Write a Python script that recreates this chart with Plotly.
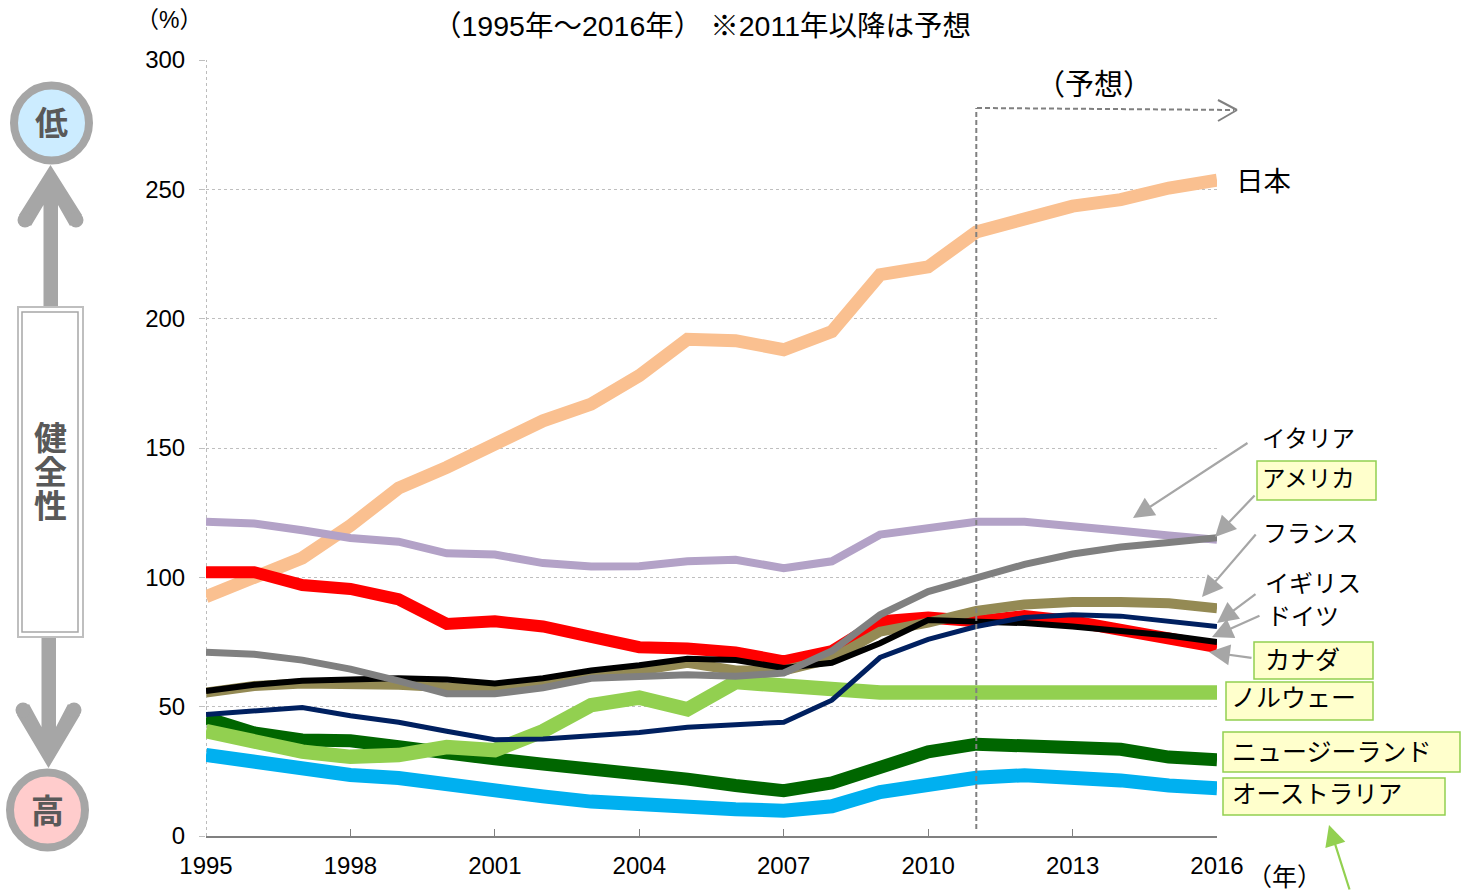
import plotly.graph_objects as go

W, H = 1467, 891
L, R, T, B = 206, 1217, 60, 836

years = list(range(1995, 2017))
x_ticks = [1995, 1998, 2001, 2004, 2007, 2010, 2013, 2016]
y_ticks = [0, 50, 100, 150, 200, 250, 300]

japan = [92.5, 100, 107.5, 120, 134.5, 142.5, 152, 160.5, 167, 178, 192, 191.5, 188, 195, 217, 220, 233.5, 239, 243.5, 246, 250.5, 253.5]
italy = [121.5, 120.8, 118.2, 115.2, 113.8, 109.3, 108.8, 105.5, 104.2, 104.3, 106.2, 106.8, 103.5, 106.2, 116.5, 119, 121.5, 121.5, 120, 118, 116.2, 114.5]
usa = [71, 70.3, 68, 64.5, 60, 55, 55, 57.3, 61, 61.7, 62.3, 61.8, 63, 71.5, 85.5, 94.5, 100, 105, 109, 111.7, 113.5, 115.3]
france = [55.5, 58, 59, 59, 58.5, 57.5, 57, 59.5, 62.5, 64, 67, 64, 64, 68.5, 79, 82.5, 87, 89.5, 90.5, 90.5, 90, 88]
canada = [102, 102, 97, 95.5, 91.5, 82, 83, 81, 77, 73, 72.5, 71, 67.5, 71.5, 83, 84.5, 83, 85, 83, 80, 76.5, 73]
uk = [47, 48.5, 49.7, 46.5, 44, 40.5, 37.2, 37.5, 38.7, 40, 42, 43.2, 44, 52.5, 69, 76, 81, 84.5, 85.5, 85, 83, 81]
germany = [56, 58.5, 60, 60.5, 61, 60.5, 59, 61, 64, 66, 68.5, 68, 65, 67, 74.5, 83.5, 83, 82.3, 81, 79.5, 77.5, 75]
norway = [40.6, 36, 32.6, 30.6, 31.3, 34.4, 33.2, 40.5, 50.6, 53.5, 49, 59.5, 58, 56.5, 55.5, 55.5, 55.5, 55.5, 55.5, 55.5, 55.5, 55.5]
new_zealand = [45.6, 39.8, 37.1, 36.8, 34.5, 31.7, 29.8, 27.8, 26.2, 24, 22, 19.5, 17.5, 20.5, 26.5, 32.5, 35.5, 35, 34.5, 33.5, 30.5, 29.5]
australia = [31.3, 28.7, 25.8, 23.6, 22.4, 19.7, 17.1, 15.3, 13.3, 12, 11, 10.3, 9.8, 11.5, 17, 20, 22.5, 23.5, 23, 21.5, 19.5, 18.5]

series = [
    ("オーストラリア", australia, "#00B0F0", 14),
    ("ニュージーランド", new_zealand, "#006600", 13),
    ("ノルウェー", norway, "#92D050", 14.5),
    ("日本", japan, "#FAC090", 13),
    ("イタリア", italy, "#B3A2C7", 8),
    ("カナダ", canada, "#FF0000", 12),
    ("フランス", france, "#948A54", 10),
    ("ドイツ", germany, "#000000", 6),
    ("イギリス", uk, "#002060", 5),
    ("アメリカ", usa, "#808080", 7),
]

FONT = "'Liberation Sans', Arial, 'Noto Sans CJK JP', sans-serif"
GRAY = "#A6A6A6"


def px(v):
    return (v - L) / (R - L)


def py(v):
    return (B - v) / (B - T)


def poly(points):
    d = "M " + " L ".join(f"{px(a):.5f},{py(b):.5f}" for a, b in points) + " Z"
    return d


fig = go.Figure()
for name, values, color, width in series:
    fig.add_trace(go.Scatter(x=years, y=values, name=name, mode="lines",
                             line=dict(color=color, width=width, shape="linear")))

shapes = []


def rect(x0, y0, x1, y1, fill="rgba(0,0,0,0)", line=GRAY, width=1.5):
    shapes.append(dict(type="rect", xref="paper", yref="paper", layer="above",
                       x0=px(x0), x1=px(x1), y0=py(y0), y1=py(y1),
                       fillcolor=fill, line=dict(color=line, width=width)))


def circle(cx, cy, r, fill, line=None, width=0):
    shapes.append(dict(type="circle", xref="paper", yref="paper", layer="above",
                       x0=px(cx - r), x1=px(cx + r), y0=py(cy + r), y1=py(cy - r),
                       fillcolor=fill, line=dict(color=line or fill, width=width)))


def segment(x0, y0, x1, y1, color="#808080", width=2, dash=None):
    shapes.append(dict(type="line", xref="paper", yref="paper", layer="above",
                       x0=px(x0), x1=px(x1), y0=py(y0), y1=py(y1),
                       line=dict(color=color, width=width, dash=dash)))


def fill_poly(points, color=GRAY):
    shapes.append(dict(type="path", xref="paper", yref="paper", layer="above",
                       path=poly(points), fillcolor=color, line=dict(width=0)))


# y axis dotted line
shapes.append(dict(type="line", xref="x", yref="y", x0=1995, x1=1995, y0=0, y1=300, layer="below",
                   line=dict(color="#A6A6A6", width=1.5, dash="dot")))

# forecast marker
shapes.append(dict(type="line", xref="x", yref="paper", x0=2011, x1=2011, y0=py(829), y1=py(108),
                   layer="above", line=dict(color="#808080", width=2, dash="5px,3px")))
segment(977, 108, 1234, 110, dash="5px,3px")
segment(1218, 100, 1237, 110, width=2)
segment(1218, 121, 1237, 110, width=2)

# left panel: arrows
fill_poly([(50.5, 165), (82, 215), (70, 226), (58, 205), (58, 308), (43.5, 308), (43.5, 205), (31, 226), (19, 215)])
circle(25, 220, 7.5, GRAY)
circle(76, 220, 7.5, GRAY)
fill_poly([(48.5, 768), (80, 715), (68, 704), (56, 727), (56, 635), (41.5, 635), (41.5, 727), (29, 704), (17, 715)])
circle(23, 710, 7.5, GRAY)
circle(74, 710, 7.5, GRAY)
circle(51.5, 123, 37.5, "#CCECFF", GRAY, 8)
circle(47.5, 810, 37.5, "#FFCCCC", GRAY, 8)
rect(18, 307, 83, 637, fill="#FFFFFF", line="#BFBFBF", width=2)
rect(22, 312, 78, 632, line="#A6A6A6", width=1.5)

# label boxes
BOX_FILL = "#FFFFCC"
BOX_LINE = "#92D050"
for box in [(1257, 461, 1376, 500), (1254, 642, 1373, 679), (1226, 682, 1373, 720),
            (1223, 732, 1460, 772), (1223, 778, 1445, 815)]:
    rect(*box, fill=BOX_FILL, line=BOX_LINE, width=1.5)

annotations = []


def text(x, y, s, size=24, anchor="left", color="#000000", bold=False, height=None):
    annotations.append(dict(xref="paper", yref="paper", x=px(x), y=py(y), text=f"<b>{s}</b>" if bold else s,
                            showarrow=False, xanchor=anchor, yanchor="middle", height=height,
                            borderpad=0, font=dict(size=size, color=color, family=FONT)))


def arrow(x0, y0, x1, y1, color=GRAY):
    annotations.append(dict(xref="paper", yref="paper", x=px(x1), y=py(y1), ax=x0 - x1, ay=y0 - y1,
                            axref="pixel", ayref="pixel", text="", showarrow=True,
                            arrowhead=2, arrowsize=1.9, arrowwidth=2.2, arrowcolor=color))


text(702, 26, "（1995年～2016年） ※2011年以降は予想", 28.5, "center")
text(169, 20, "（%）", 23, "center")
text(1094, 85, "（予想）", 29, "center")
text(1284, 877, "（年）", 25, "center")

text(51.5, 123, "低", 33, "center", "#595959", True)
text(47.5, 811, "高", 33, "center", "#595959", True)
text(50.5, 438, "健", 33, "center", "#595959", True, height=32)
text(50.5, 472, "全", 33, "center", "#595959", True, height=32)
text(50.5, 506, "性", 33, "center", "#595959", True, height=32)

text(1235, 181, "日本", 27.5)
text(1261, 439, "イタリア", 23.5)
text(1261, 479, "アメリカ", 23.5)
text(1262, 533, "フランス", 24)
text(1264, 583, "イギリス", 24)
text(1266, 616, "ドイツ", 24)
text(1264, 660, "カナダ", 25)
text(1230, 698, "ノルウェー", 25)
text(1231, 752, "ニュージーランド", 25)
text(1231, 794, "オーストラリア", 24.5)

arrow(1249, 442, 1133, 518)
arrow(1256, 494, 1215, 537)
arrow(1257, 533, 1202, 597)
arrow(1257, 593, 1217, 623)
arrow(1261, 615, 1212, 637)
arrow(1253, 658, 1209, 652)
arrow(1350, 891, 1329, 825, "#92D050")

fig.update_layout(
    width=W, height=H,
    autosize=False,
    showlegend=False,
    paper_bgcolor="#FFFFFF",
    plot_bgcolor="#FFFFFF",
    font=dict(family=FONT, size=24, color="#000000"),
    margin=dict(l=L, r=W - R, t=T, b=H - B, pad=0),
    shapes=shapes,
    annotations=annotations,
    xaxis=dict(range=[1995, 2016], tickmode="array", tickvals=x_ticks, ticktext=[str(v) for v in x_ticks],
               automargin=False,
               showgrid=False, zeroline=False, showline=True, linecolor="#808080", linewidth=2,
               ticks="inside", ticklen=7, tickwidth=1, tickcolor="#808080", ticklabelstandoff=7,
               tickfont=dict(size=24)),
    yaxis=dict(range=[0, 300], tickmode="array", tickvals=y_ticks, ticktext=[str(v) for v in y_ticks],
               automargin=False,
               showgrid=True, gridcolor="#BFBFBF", griddash="dot", gridwidth=1, zeroline=False, showline=False,
               ticks="outside", ticklen=6, tickwidth=1, tickcolor="#BFBFBF", ticklabelstandoff=9,
               tickfont=dict(size=24)),
)

fig.write_html("out.html", config=dict(displayModeBar=False),
               post_script="document.body.style.margin='0';document.documentElement.style.overflow='hidden';")
